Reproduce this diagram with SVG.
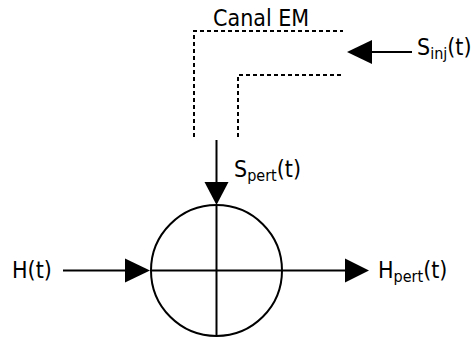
<svg xmlns="http://www.w3.org/2000/svg" width="474" height="340" viewBox="0 0 474 340">
<style>
.ln{stroke:#000;stroke-width:2;fill:none}
.ds{stroke:#000;stroke-width:2;fill:none;stroke-dasharray:4 3}
.ah{fill:#000}
text{font-family:"DejaVu Sans Condensed","DejaVu Sans",sans-serif;font-size:23px;fill:#000}
.sb{font-size:16px}
</style>
<rect width="474" height="340" fill="#fff"/>
<g id="canal">
<path class="ds" d="M194,137 V31 H343"/>
<path class="ds" d="M238,137 V75 H343"/>
<text x="213" y="26">Canal EM</text>
</g>
<g id="mixer">
<circle class="ln" cx="216.5" cy="270.5" r="65.5"/>
<line class="ln" x1="151" y1="270.5" x2="282" y2="270.5"/>
<line class="ln" x1="216.5" y1="205" x2="216.5" y2="336"/>
</g>
<g id="labels">
<text x="12" y="277.5">H(t)</text>
<text x="378" y="277.5">H<tspan class="sb" dy="4">pert</tspan><tspan dy="-4">(t)</tspan></text>
<text x="234" y="177">S<tspan class="sb" dy="4">pert</tspan><tspan dy="-4">(t)</tspan></text>
<text x="417" y="55">S<tspan class="sb" dy="4">inj</tspan><tspan dy="-4">(t)</tspan></text>
</g>
<g id="connectors">
<line class="ln" x1="63" y1="270.5" x2="128" y2="270.5"/>
<polygon class="ah" points="150,270.5 125,258.5 125,282.5"/>
<line class="ln" x1="282" y1="270.5" x2="348" y2="270.5"/>
<polygon class="ah" points="369,270.5 345,258.5 345,282.5"/>
<line class="ln" x1="216.5" y1="140" x2="216.5" y2="185"/>
<polygon class="ah" points="216.5,205 204.5,182 228.5,182"/>
<line class="ln" x1="412" y1="52" x2="370" y2="52"/>
<polygon class="ah" points="347,52 372,40 372,64"/>
</g>
</svg>
